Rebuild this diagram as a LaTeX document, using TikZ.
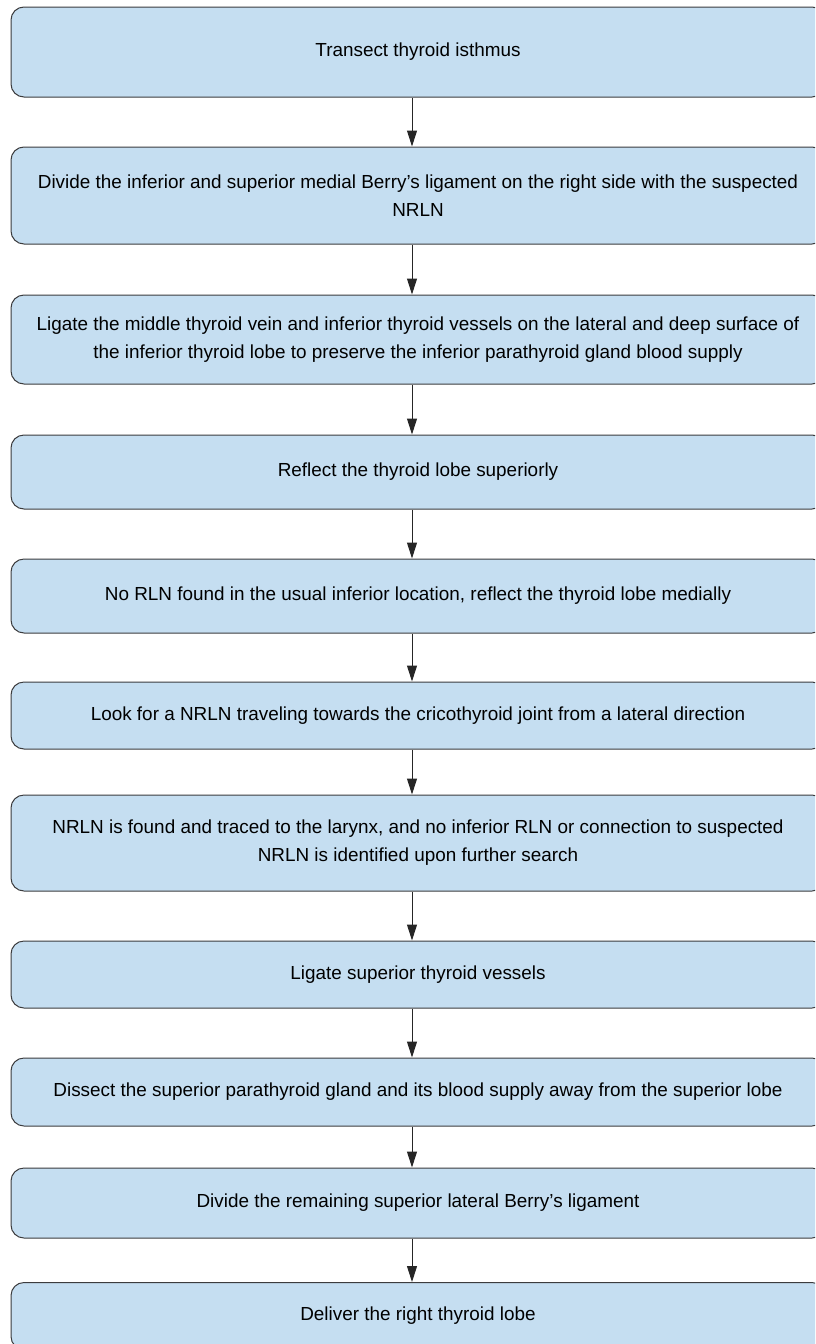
\documentclass[tikz,border=0pt]{standalone}
\usepackage{fontspec}
\setmainfont{Liberation Sans}
\usetikzlibrary{arrows.meta}
\definecolor{boxfill}{RGB}{197,222,241}
\definecolor{boxline}{RGB}{60,60,62}
\tikzset{
  x=1pt,y=-1pt,
  stepbox/.style={draw=boxline, line width=1pt, fill=boxfill, rounded corners=13pt,
    minimum width=814pt, inner sep=0pt, align=center, font=\fontsize{18.9}{28}\selectfont},
  arr/.style={draw=black!85, line width=1pt, -{Triangle[length=16pt,width=10pt]}}
}
\begin{document}
\begin{tikzpicture}
\useasboundingbox (0,0) rectangle (815,1344);
\clip (0,0) rectangle (815,1344);
\node[stepbox, minimum height=90pt] (b1) at (418,52) {Transect thyroid isthmus};
\node[stepbox, minimum height=97pt] (b2) at (418,195.5) {Divide the inferior and superior medial Berry’s ligament on the right side with the suspected\\NRLN};
\node[stepbox, minimum height=89pt] (b3) at (418,339.5) {Ligate the middle thyroid vein and inferior thyroid vessels on the lateral and deep surface of\\the inferior thyroid lobe to preserve the inferior parathyroid gland blood supply};
\node[stepbox, minimum height=74pt] (b4) at (418,472) {Reflect the thyroid lobe superiorly};
\node[stepbox, minimum height=74pt] (b5) at (418,596) {No RLN found in the usual inferior location, reflect the thyroid lobe medially};
\node[stepbox, minimum height=67pt] (b6) at (418,715.5) {Look for a NRLN traveling towards the cricothyroid joint from a lateral direction};
\node[stepbox, minimum height=96pt] (b7) at (418,843) {NRLN is found and traced to the larynx, and no inferior RLN or connection to suspected\\NRLN is identified upon further search};
\node[stepbox, minimum height=67pt] (b8) at (418,974.5) {Ligate superior thyroid vessels};
\node[stepbox, minimum height=68pt] (b9) at (418,1092) {Dissect the superior parathyroid gland and its blood supply away from the superior lobe};
\node[stepbox, minimum height=70pt] (b10) at (418,1203) {Divide the remaining superior lateral Berry’s ligament};
\node[stepbox, minimum height=67pt] (b11) at (418,1316) {Deliver the right thyroid lobe};
\coordinate (ax) at (412,0);
\foreach \a/\b in {b1/b2,b2/b3,b3/b4,b4/b5,b5/b6,b6/b7,b7/b8,b8/b9,b9/b10,b10/b11}
  \draw[arr] (\a.south -| ax) -- (\b.north -| ax);
\end{tikzpicture}
\end{document}
